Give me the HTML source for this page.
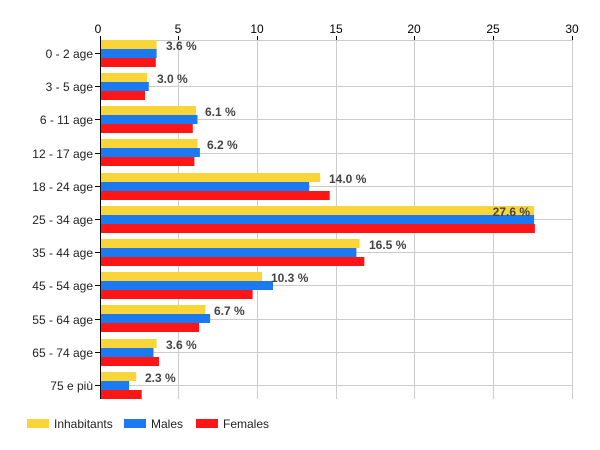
<!DOCTYPE html>
<html><head><meta charset="utf-8"><style>body{margin:0;background:#fff}svg{display:block}text{font-family:"Liberation Sans",Arial,sans-serif}</style></head><body>
<svg width="600" height="450" viewBox="0 0 600 450" xmlns="http://www.w3.org/2000/svg">
<g stroke="#ccc" stroke-width="1">
<line x1="178.5" y1="40" x2="178.5" y2="399"/><line x1="257.5" y1="40" x2="257.5" y2="399"/><line x1="336.5" y1="40" x2="336.5" y2="399"/><line x1="414.5" y1="40" x2="414.5" y2="399"/><line x1="493.5" y1="40" x2="493.5" y2="399"/><line x1="572.5" y1="40" x2="572.5" y2="399"/>
<line x1="100" y1="40.5" x2="572" y2="40.5"/>
<line x1="100" y1="86.5" x2="572" y2="86.5"/><line x1="100" y1="119.5" x2="572" y2="119.5"/><line x1="100" y1="153.5" x2="572" y2="153.5"/><line x1="100" y1="186.5" x2="572" y2="186.5"/><line x1="100" y1="219.5" x2="572" y2="219.5"/><line x1="100" y1="252.5" x2="572" y2="252.5"/><line x1="100" y1="285.5" x2="572" y2="285.5"/><line x1="100" y1="319.5" x2="572" y2="319.5"/><line x1="100" y1="352.5" x2="572" y2="352.5"/><line x1="100" y1="385.5" x2="572" y2="385.5"/>
</g>
<g>
<rect x="100" y="40" width="56.6" height="9" fill="#fad53a"/><rect x="100" y="49" width="56.6" height="9" fill="#1b79f1"/><rect x="100" y="58" width="55.8" height="9" fill="#fe1616"/>
<rect x="100" y="73" width="47.2" height="9" fill="#fad53a"/><rect x="100" y="82" width="48.8" height="9" fill="#1b79f1"/><rect x="100" y="91" width="45" height="9" fill="#fe1616"/>
<rect x="100" y="106" width="96" height="9" fill="#fad53a"/><rect x="100" y="115" width="97.5" height="9" fill="#1b79f1"/><rect x="100" y="124" width="92.8" height="9" fill="#fe1616"/>
<rect x="100" y="139" width="97.5" height="9" fill="#fad53a"/><rect x="100" y="148" width="99.9" height="9" fill="#1b79f1"/><rect x="100" y="157" width="94.4" height="9" fill="#fe1616"/>
<rect x="100" y="173" width="220.2" height="9" fill="#fad53a"/><rect x="100" y="182" width="209.2" height="9" fill="#1b79f1"/><rect x="100" y="191" width="229.7" height="9" fill="#fe1616"/>
<rect x="100" y="206" width="434.1" height="9" fill="#fad53a"/><rect x="100" y="215" width="434.1" height="9" fill="#1b79f1"/><rect x="100" y="224" width="434.9" height="9" fill="#fe1616"/>
<rect x="100" y="239" width="259.5" height="9" fill="#fad53a"/><rect x="100" y="248" width="256.4" height="9" fill="#1b79f1"/><rect x="100" y="257" width="264.3" height="9" fill="#fe1616"/>
<rect x="100" y="272" width="162" height="9" fill="#fad53a"/><rect x="100" y="281" width="173" height="9" fill="#1b79f1"/><rect x="100" y="290" width="152.6" height="9" fill="#fe1616"/>
<rect x="100" y="305" width="105.4" height="9" fill="#fad53a"/><rect x="100" y="314" width="110.1" height="9" fill="#1b79f1"/><rect x="100" y="323" width="99.1" height="9" fill="#fe1616"/>
<rect x="100" y="339" width="56.6" height="9" fill="#fad53a"/><rect x="100" y="348" width="53.5" height="9" fill="#1b79f1"/><rect x="100" y="357" width="59" height="9" fill="#fe1616"/>
<rect x="100" y="372" width="36.2" height="9" fill="#fad53a"/><rect x="100" y="381" width="29.1" height="9" fill="#1b79f1"/><rect x="100" y="390" width="41.7" height="9" fill="#fe1616"/>
</g>
<g stroke="#000" stroke-width="1">
<line x1="100.5" y1="37" x2="100.5" y2="399"/>
<line x1="100.5" y1="36" x2="100.5" y2="40"/><line x1="178.5" y1="36" x2="178.5" y2="40"/><line x1="257.5" y1="36" x2="257.5" y2="40"/><line x1="336.5" y1="36" x2="336.5" y2="40"/><line x1="414.5" y1="36" x2="414.5" y2="40"/><line x1="493.5" y1="36" x2="493.5" y2="40"/><line x1="572.5" y1="36" x2="572.5" y2="40"/>
<line x1="95" y1="53.5" x2="100" y2="53.5"/><line x1="95" y1="86.5" x2="100" y2="86.5"/><line x1="95" y1="119.5" x2="100" y2="119.5"/><line x1="95" y1="153.5" x2="100" y2="153.5"/><line x1="95" y1="186.5" x2="100" y2="186.5"/><line x1="95" y1="219.5" x2="100" y2="219.5"/><line x1="95" y1="252.5" x2="100" y2="252.5"/><line x1="95" y1="285.5" x2="100" y2="285.5"/><line x1="95" y1="319.5" x2="100" y2="319.5"/><line x1="95" y1="352.5" x2="100" y2="352.5"/><line x1="95" y1="385.5" x2="100" y2="385.5"/>
</g>
<g font-size="12" fill="#000" text-anchor="middle">
<text x="98" y="33">0</text><text x="178" y="33">5</text><text x="257" y="33">10</text><text x="336" y="33">15</text><text x="414" y="33">20</text><text x="493" y="33">25</text><text x="572" y="33">30</text>
</g>
<g font-size="12" fill="#222" text-anchor="end">
<text x="93" y="58">0 - 2 age</text><text x="93" y="91">3 - 5 age</text><text x="93" y="124">6 - 11 age</text><text x="93" y="158">12 - 17 age</text><text x="93" y="191">18 - 24 age</text><text x="93" y="224">25 - 34 age</text><text x="93" y="257">35 - 44 age</text><text x="93" y="290">45 - 54 age</text><text x="93" y="324">55 - 64 age</text><text x="93" y="357">65 - 74 age</text><text x="93" y="390">75 e più</text>
</g>
<g font-size="12" font-weight="bold" fill="#444">
<text x="166" y="50">3.6 %</text><text x="157" y="83">3.0 %</text><text x="205" y="116">6.1 %</text><text x="207" y="149">6.2 %</text><text x="329" y="183">14.0 %</text>
<text x="530" y="216" text-anchor="end">27.6 %</text>
<text x="369" y="249">16.5 %</text><text x="271" y="282">10.3 %</text><text x="214" y="315">6.7 %</text><text x="166" y="349">3.6 %</text><text x="145" y="382">2.3 %</text>
</g>
<g font-size="12" fill="#222">
<rect x="27" y="419" width="22" height="9" fill="#fad53a"/><text x="54" y="428">Inhabitants</text>
<rect x="124" y="419" width="22" height="9" fill="#1b79f1"/><text x="151" y="428">Males</text>
<rect x="196" y="419" width="22" height="9" fill="#fe1616"/><text x="223" y="428">Females</text>
</g>
</svg>
</body></html>
